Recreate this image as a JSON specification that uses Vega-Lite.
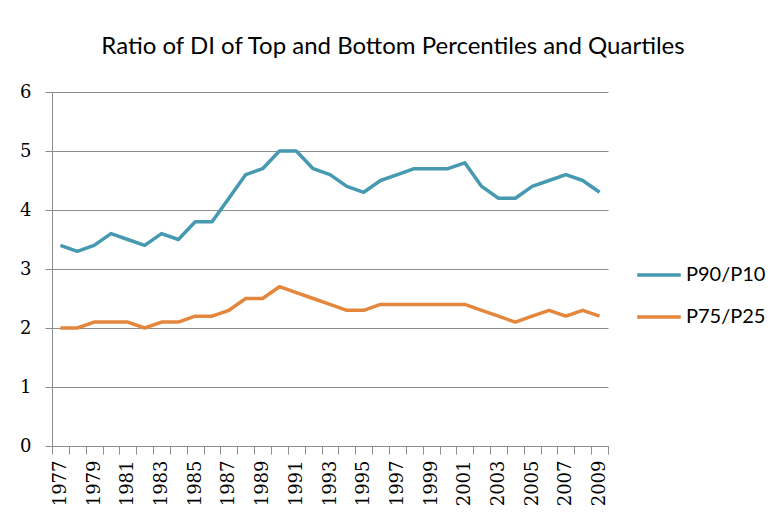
{
  "$schema": "https://vega.github.io/schema/vega-lite/v6.json",
  "width": 556,
  "height": 354,
  "autosize": {"type": "none"},
  "padding": {"left": 52, "top": 92, "right": 163, "bottom": 73},
  "background": "white",
  "title": {
    "text": "Ratio of DI of Top and Bottom Percentiles and Quartiles",
    "font": "Lato",
    "fontSize": 24,
    "fontWeight": "normal",
    "color": "#000000",
    "anchor": "middle",
    "offset": 24,
    "dx": 63
  },
  "config": {"view": {"stroke": null}},
  "datasets": {
    "ratios": [
      {"year": 1977, "series": "P90/P10", "value": 3.4},
      {"year": 1978, "series": "P90/P10", "value": 3.3},
      {"year": 1979, "series": "P90/P10", "value": 3.4},
      {"year": 1980, "series": "P90/P10", "value": 3.6},
      {"year": 1981, "series": "P90/P10", "value": 3.5},
      {"year": 1982, "series": "P90/P10", "value": 3.4},
      {"year": 1983, "series": "P90/P10", "value": 3.6},
      {"year": 1984, "series": "P90/P10", "value": 3.5},
      {"year": 1985, "series": "P90/P10", "value": 3.8},
      {"year": 1986, "series": "P90/P10", "value": 3.8},
      {"year": 1987, "series": "P90/P10", "value": 4.2},
      {"year": 1988, "series": "P90/P10", "value": 4.6},
      {"year": 1989, "series": "P90/P10", "value": 4.7},
      {"year": 1990, "series": "P90/P10", "value": 5.0},
      {"year": 1991, "series": "P90/P10", "value": 5.0},
      {"year": 1992, "series": "P90/P10", "value": 4.7},
      {"year": 1993, "series": "P90/P10", "value": 4.6},
      {"year": 1994, "series": "P90/P10", "value": 4.4},
      {"year": 1995, "series": "P90/P10", "value": 4.3},
      {"year": 1996, "series": "P90/P10", "value": 4.5},
      {"year": 1997, "series": "P90/P10", "value": 4.6},
      {"year": 1998, "series": "P90/P10", "value": 4.7},
      {"year": 1999, "series": "P90/P10", "value": 4.7},
      {"year": 2000, "series": "P90/P10", "value": 4.7},
      {"year": 2001, "series": "P90/P10", "value": 4.8},
      {"year": 2002, "series": "P90/P10", "value": 4.4},
      {"year": 2003, "series": "P90/P10", "value": 4.2},
      {"year": 2004, "series": "P90/P10", "value": 4.2},
      {"year": 2005, "series": "P90/P10", "value": 4.4},
      {"year": 2006, "series": "P90/P10", "value": 4.5},
      {"year": 2007, "series": "P90/P10", "value": 4.6},
      {"year": 2008, "series": "P90/P10", "value": 4.5},
      {"year": 2009, "series": "P90/P10", "value": 4.3},
      {"year": 1977, "series": "P75/P25", "value": 2.0},
      {"year": 1978, "series": "P75/P25", "value": 2.0},
      {"year": 1979, "series": "P75/P25", "value": 2.1},
      {"year": 1980, "series": "P75/P25", "value": 2.1},
      {"year": 1981, "series": "P75/P25", "value": 2.1},
      {"year": 1982, "series": "P75/P25", "value": 2.0},
      {"year": 1983, "series": "P75/P25", "value": 2.1},
      {"year": 1984, "series": "P75/P25", "value": 2.1},
      {"year": 1985, "series": "P75/P25", "value": 2.2},
      {"year": 1986, "series": "P75/P25", "value": 2.2},
      {"year": 1987, "series": "P75/P25", "value": 2.3},
      {"year": 1988, "series": "P75/P25", "value": 2.5},
      {"year": 1989, "series": "P75/P25", "value": 2.5},
      {"year": 1990, "series": "P75/P25", "value": 2.7},
      {"year": 1991, "series": "P75/P25", "value": 2.6},
      {"year": 1992, "series": "P75/P25", "value": 2.5},
      {"year": 1993, "series": "P75/P25", "value": 2.4},
      {"year": 1994, "series": "P75/P25", "value": 2.3},
      {"year": 1995, "series": "P75/P25", "value": 2.3},
      {"year": 1996, "series": "P75/P25", "value": 2.4},
      {"year": 1997, "series": "P75/P25", "value": 2.4},
      {"year": 1998, "series": "P75/P25", "value": 2.4},
      {"year": 1999, "series": "P75/P25", "value": 2.4},
      {"year": 2000, "series": "P75/P25", "value": 2.4},
      {"year": 2001, "series": "P75/P25", "value": 2.4},
      {"year": 2002, "series": "P75/P25", "value": 2.3},
      {"year": 2003, "series": "P75/P25", "value": 2.2},
      {"year": 2004, "series": "P75/P25", "value": 2.1},
      {"year": 2005, "series": "P75/P25", "value": 2.2},
      {"year": 2006, "series": "P75/P25", "value": 2.3},
      {"year": 2007, "series": "P75/P25", "value": 2.2},
      {"year": 2008, "series": "P75/P25", "value": 2.3},
      {"year": 2009, "series": "P75/P25", "value": 2.2}
    ]
  },
  "data": {"name": "ratios"},
  "mark": {"type": "line", "strokeWidth": 3.5, "strokeJoin": "round"},
  "encoding": {
    "x": {
      "field": "year",
      "type": "ordinal",
      "scale": {"type": "band", "paddingInner": 0, "paddingOuter": 0},
      "axis": {
        "title": null,
        "labelAngle": -90,
        "labelAlign": "right",
        "labelBaseline": "middle",
        "labelFont": "DejaVu Serif",
        "labelFontSize": 18,
        "labelColor": "#000000",
        "labelPadding": 6,
        "labelExpr": "(datum.value - 1977) % 2 == 0 ? datum.label : ''",
        "labelOverlap": false,
        "tickBand": "extent",
        "tickSize": 8,
        "tickColor": "#8c8c8c",
        "domainColor": "#8c8c8c",
        "grid": false
      }
    },
    "y": {
      "field": "value",
      "type": "quantitative",
      "scale": {"domain": [0, 6], "nice": false},
      "axis": {
        "title": null,
        "values": [0, 1, 2, 3, 4, 5, 6],
        "labelFont": "DejaVu Serif",
        "labelFontSize": 18,
        "labelColor": "#000000",
        "labelPadding": 14,
        "tickSize": 7,
        "tickColor": "#8c8c8c",
        "domainColor": "#8c8c8c",
        "grid": true,
        "gridColor": "#8c8c8c",
        "gridWidth": 1
      }
    },
    "color": {
      "field": "series",
      "type": "nominal",
      "sort": ["P90/P10", "P75/P25"],
      "scale": {"domain": ["P90/P10", "P75/P25"], "range": ["#4599B0", "#E4873C"]},
      "legend": {
        "title": null,
        "orient": "none",
        "legendX": 583,
        "legendY": 159,
        "symbolType": "stroke",
        "symbolSize": 1900,
        "symbolStrokeWidth": 3.5,
        "labelFont": "Lato",
        "labelFontSize": 20,
        "labelColor": "#000000",
        "labelOffset": 3,
        "rowPadding": 8
      }
    }
  }
}
